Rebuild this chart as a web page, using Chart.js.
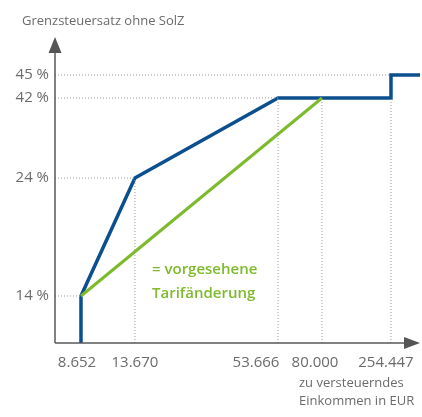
<!DOCTYPE html>
<html>
<head>
<meta charset="utf-8">
<script src="https://cdn.jsdelivr.net/npm/chart.js@4/dist/chart.umd.min.js"></script>
<style>
  html, body { margin: 0; padding: 0; background: #fff; }
  #wrap { position: relative; width: 422px; height: 417px; }
</style>
</head>
<body>
<div id="wrap"><canvas id="grafica"></canvas></div>
<script>
// Einkommensgrenzen (EUR) und Steuersätze (%)
const einkommen = [8652, 13670, 53666, 80000, 254447];
const einkommenLabels = ['8.652', '13.670', '53.666', '80.000', '254.447'];
const steuersaetze = [14, 24, 42, 45];
const steuersatzLabels = ['14 %', '24 %', '42 %', '45 %'];

// aktueller Tarif (blau)
const tarifX = [8652, 8652, 13670, 53666, 254447, 254447, 300000];
const tarifY = [0, 14, 24, 42, 42, 45, 45];
// vorgesehene Tarifänderung (grün)
const neuX = [8652, 80000];
const neuY = [14, 42];

const grau = '#6b6b6b';
const blau = '#0b4f8e';
const gruen = '#7dba2c';
const schrift = '"Open Sans", "Lato", sans-serif';

// Skala mit stückweise linearer Abbildung (die Achsen im Original sind nicht maßstabsgetreu)
class StueckScale extends Chart.LinearScale {
  _dec(value) {
    const st = this.options.stops;
    if (value <= st[0][0]) return st[0][1];
    for (let i = 1; i < st.length; i++) {
      if (value <= st[i][0]) {
        const a = st[i - 1], b = st[i];
        return a[1] + (value - a[0]) / (b[0] - a[0]) * (b[1] - a[1]);
      }
    }
    return st[st.length - 1][1];
  }
  getPixelForValue(value) {
    if (value === null || value === undefined) return NaN;
    return this.getPixelForDecimal(this._dec(value));
  }
  getValueForPixel(pixel) {
    const d = this.getDecimalForPixel(pixel);
    const st = this.options.stops;
    for (let i = 1; i < st.length; i++) {
      if (d <= st[i][1]) {
        const a = st[i - 1], b = st[i];
        return a[0] + (d - a[1]) / (b[1] - a[1]) * (b[0] - a[0]);
      }
    }
    return st[st.length - 1][0];
  }
}
StueckScale.id = 'stueck';
StueckScale.defaults = Chart.LinearScale.defaults;
Chart.register(StueckScale);

const pts = (xs, ys) => xs.map((x, i) => ({ x: x, y: ys[i] }));

// gepunktete Hilfslinien von den Achsen bis zum Knick
const hilfslinien = [];
const knickY = [24, 42, 42, 42];
einkommen.forEach((e, i) => {
  if (i === 0) return;
  hilfslinien.push([{ x: e, y: 0 }, { x: e, y: knickY[i - 1] }]);
});
[[8652, 14], [13670, 24], [53666, 42], [254447, 45]].forEach(p => {
  hilfslinien.push([{ x: 0, y: p[1] }, { x: p[0], y: p[1] }]);
});

const datasets = hilfslinien.map(d => ({
  data: d,
  borderColor: '#9a9a9a',
  borderWidth: 1,
  borderDash: [1, 2],
  pointRadius: 0,
  tension: 0
}));
datasets.push({
  data: pts(neuX, neuY),
  borderColor: gruen,
  borderWidth: 3,
  pointRadius: 0,
  tension: 0
});
datasets.push({
  data: pts(tarifX, tarifY),
  borderColor: blau,
  borderWidth: 3.5,
  pointRadius: 0,
  tension: 0,
  borderJoinStyle: 'miter'
});

const beschriftung = {
  id: 'beschriftung',
  afterDraw(chart) {
    const ctx = chart.ctx;
    const xs = chart.scales.x, ys = chart.scales.y;
    const ca = chart.chartArea;
    const x0 = xs.getPixelForValue(0);
    const y0 = ys.getPixelForValue(0);
    ctx.save();
    // Achsen
    ctx.strokeStyle = '#5a5a5a';
    ctx.fillStyle = '#555';
    ctx.lineWidth = 1.5;
    ctx.beginPath();
    ctx.moveTo(x0, y0);
    ctx.lineTo(x0, ca.top + 14);
    ctx.moveTo(x0, y0);
    ctx.lineTo(ca.right - 14, y0);
    ctx.stroke();
    ctx.beginPath();
    ctx.moveTo(x0, ca.top);
    ctx.lineTo(x0 - 6.5, ca.top + 16);
    ctx.lineTo(x0 + 6.5, ca.top + 16);
    ctx.closePath();
    ctx.fill();
    ctx.beginPath();
    ctx.moveTo(ca.right, y0);
    ctx.lineTo(ca.right - 16, y0 - 6);
    ctx.lineTo(ca.right - 16, y0 + 6);
    ctx.closePath();
    ctx.fill();

    // y-Beschriftung
    ctx.fillStyle = grau;
    ctx.font = '15px ' + schrift;
    ctx.textAlign = 'right';
    ctx.textBaseline = 'middle';
    steuersaetze.forEach((s, i) => {
      ctx.fillText(steuersatzLabels[i], x0 - 6, ys.getPixelForValue(s));
    });
    // x-Beschriftung
    ctx.textAlign = 'center';
    const verschiebung = [-4, 0, -22, -7, -5];
    einkommen.forEach((e, i) => {
      ctx.fillText(einkommenLabels[i], xs.getPixelForValue(e) + verschiebung[i], y0 + 20);
    });
    // Achsentitel
    ctx.font = '13px ' + schrift;
    ctx.textAlign = 'left';
    ctx.fillText('Grenzsteuersatz ohne SolZ', 22, 21);
    ctx.fillText('zu versteuerndes', 299, y0 + 40);
    ctx.fillText('Einkommen in EUR', 299, y0 + 58);
    // Legende
    ctx.fillStyle = gruen;
    ctx.font = '600 15px ' + schrift;
    ctx.fillText('= vorgesehene', 152, 270);
    ctx.fillText('Tarifänderung', 152, 294);
    ctx.restore();
  }
};

new Chart(document.getElementById('grafica'), {
  type: 'line',
  data: { datasets: datasets },
  plugins: [beschriftung],
  options: {
    responsive: true,
    maintainAspectRatio: false,
    animation: false,
    layout: { padding: { left: 55, right: 2, top: 37, bottom: 74 } },
    plugins: { legend: { display: false }, tooltip: { enabled: false } },
    scales: {
      x: {
        type: 'stueck',
        min: 0, max: 300000,
        stops: [[0, 0], [8652, 0.0712], [13670, 0.219], [53666, 0.611], [80000, 0.7315], [254447, 0.9205], [300000, 1]],
        display: false
      },
      y: {
        type: 'stueck',
        min: 0, max: 50,
        stops: [[0, 0], [14, 0.1536], [24, 0.539], [42, 0.8007], [45, 0.876], [50, 1]],
        display: false
      }
    }
  }
});
</script>
</body>
</html>
